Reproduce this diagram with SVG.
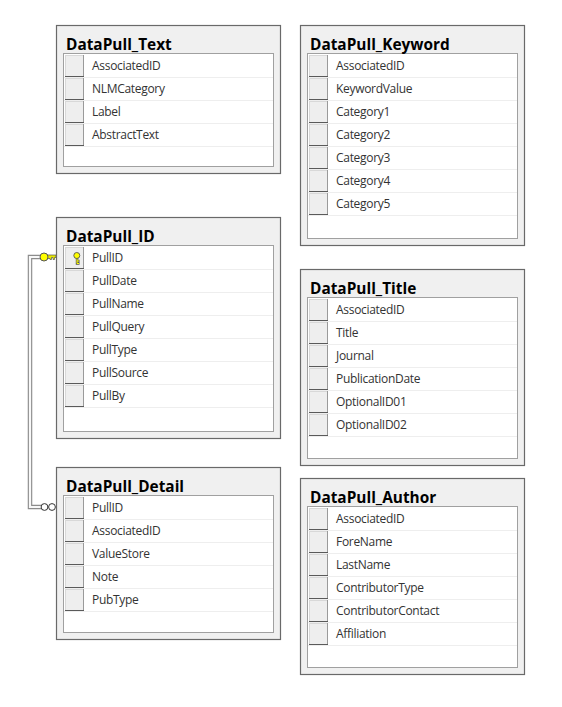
<svg xmlns="http://www.w3.org/2000/svg" xmlns:xlink="http://www.w3.org/1999/xlink" width="562" height="707" viewBox="0 0 562 707">
<style>
.o{fill:#f0f0f0;stroke:#696969;stroke-width:1.2}
.i{fill:#fff;stroke:#a0a0a0;stroke-width:1}
.t{font:bold 15.4px "Open Sans","Noto Sans",sans-serif;fill:#000}
.c{font:12px "Open Sans","Noto Sans",sans-serif;letter-spacing:-.3px;fill:#333}
</style>
<defs>
<g id="r">
<line x1="0" y1="23.5" x2="209" y2="23.5" stroke="#eeeeee"/>
<rect x="1.500" y="1.500" width="18" height="21" fill="#eeeeee" stroke="#d8d8d8"/>
<path d="M19.500 1V22.500" fill="none" stroke="#9a9a9a"/>
<path d="M1 22.500H20" fill="none" stroke="#5a5a5a"/>
</g>
</defs>
<rect width="562" height="707" fill="#fff"/>
<g id="connectors">
<path d="M44 257H30V507H44" fill="none" stroke="#8c8c8c" stroke-width="4.500"/>
<path d="M44 257H30V507H44" fill="none" stroke="#f8f8f8" stroke-width="2.200"/>
<path d="M47 255H56V257.500H54.500V259.500H53V257.500H51.500V259.500H50V258.500H47Z" fill="#e8e800" stroke="#555" stroke-width=".7"/>
<circle cx="44" cy="257" r="4" fill="#ffff00" stroke="#555" stroke-width="1"/>
<circle cx="44.500" cy="507" r="3.400" fill="#fff" stroke="#333" stroke-width="1"/>
<circle cx="52" cy="507" r="3.400" fill="#fff" stroke="#333" stroke-width="1"/>
</g>
<g id="DataPull_Text">
<rect class="o" x="56.500" y="25.500" width="224" height="148"/>
<rect class="i" x="63.500" y="53.500" width="210" height="113"/>
<text class="t" x="66" y="50">DataPull_Text</text>
<use xlink:href="#r" x="64" y="54"/><text class="c" x="92" y="70">AssociatedID</text>
<use xlink:href="#r" x="64" y="77"/><text class="c" x="92" y="93">NLMCategory</text>
<use xlink:href="#r" x="64" y="100"/><text class="c" x="92" y="116">Label</text>
<use xlink:href="#r" x="64" y="123"/><text class="c" x="92" y="139">AbstractText</text>
</g>
<g id="DataPull_Keyword">
<rect class="o" x="300.500" y="25.500" width="224" height="220"/>
<rect class="i" x="307.500" y="53.500" width="210" height="185"/>
<text class="t" x="310" y="50">DataPull_Keyword</text>
<use xlink:href="#r" x="308" y="54"/><text class="c" x="336" y="70">AssociatedID</text>
<use xlink:href="#r" x="308" y="77"/><text class="c" x="336" y="93">KeywordValue</text>
<use xlink:href="#r" x="308" y="100"/><text class="c" x="336" y="116">Category1</text>
<use xlink:href="#r" x="308" y="123"/><text class="c" x="336" y="139">Category2</text>
<use xlink:href="#r" x="308" y="146"/><text class="c" x="336" y="162">Category3</text>
<use xlink:href="#r" x="308" y="169"/><text class="c" x="336" y="185">Category4</text>
<use xlink:href="#r" x="308" y="192"/><text class="c" x="336" y="208">Category5</text>
</g>
<g id="DataPull_ID">
<rect class="o" x="56.500" y="217.500" width="224" height="221"/>
<rect class="i" x="63.500" y="245.500" width="210" height="186"/>
<text class="t" x="66" y="242">DataPull_ID</text>
<use xlink:href="#r" x="64" y="246"/><text class="c" x="92" y="262">PullID</text>
<path d="M77 258V263.500H79.500M77 261H79.500" fill="none" stroke="#555" stroke-width="2.400"/>
<path d="M77 258V263.500H79M77 261H79" fill="none" stroke="#ffff00" stroke-width="1"/>
<circle cx="76.800" cy="255.500" r="3" fill="#ffff00" stroke="#555" stroke-width=".9"/>
<use xlink:href="#r" x="64" y="269"/><text class="c" x="92" y="285">PullDate</text>
<use xlink:href="#r" x="64" y="292"/><text class="c" x="92" y="308">PullName</text>
<use xlink:href="#r" x="64" y="315"/><text class="c" x="92" y="331">PullQuery</text>
<use xlink:href="#r" x="64" y="338"/><text class="c" x="92" y="354">PullType</text>
<use xlink:href="#r" x="64" y="361"/><text class="c" x="92" y="377">PullSource</text>
<use xlink:href="#r" x="64" y="384"/><text class="c" x="92" y="400">PullBy</text>
</g>
<g id="DataPull_Title">
<rect class="o" x="300.500" y="269.500" width="224" height="196"/>
<rect class="i" x="307.500" y="297.500" width="210" height="161"/>
<text class="t" x="310" y="294">DataPull_Title</text>
<use xlink:href="#r" x="308" y="298"/><text class="c" x="336" y="314">AssociatedID</text>
<use xlink:href="#r" x="308" y="321"/><text class="c" x="336" y="337">Title</text>
<use xlink:href="#r" x="308" y="344"/><text class="c" x="336" y="360">Journal</text>
<use xlink:href="#r" x="308" y="367"/><text class="c" x="336" y="383">PublicationDate</text>
<use xlink:href="#r" x="308" y="390"/><text class="c" x="336" y="406">OptionalID01</text>
<use xlink:href="#r" x="308" y="413"/><text class="c" x="336" y="429">OptionalID02</text>
</g>
<g id="DataPull_Detail">
<rect class="o" x="56.500" y="467.500" width="224" height="172"/>
<rect class="i" x="63.500" y="495.500" width="210" height="137"/>
<text class="t" x="66" y="492">DataPull_Detail</text>
<use xlink:href="#r" x="64" y="496"/><text class="c" x="92" y="512">PullID</text>
<use xlink:href="#r" x="64" y="519"/><text class="c" x="92" y="535">AssociatedID</text>
<use xlink:href="#r" x="64" y="542"/><text class="c" x="92" y="558">ValueStore</text>
<use xlink:href="#r" x="64" y="565"/><text class="c" x="92" y="581">Note</text>
<use xlink:href="#r" x="64" y="588"/><text class="c" x="92" y="604">PubType</text>
</g>
<g id="DataPull_Author">
<rect class="o" x="300.500" y="478.500" width="224" height="196"/>
<rect class="i" x="307.500" y="506.500" width="210" height="161"/>
<text class="t" x="310" y="503">DataPull_Author</text>
<use xlink:href="#r" x="308" y="507"/><text class="c" x="336" y="523">AssociatedID</text>
<use xlink:href="#r" x="308" y="530"/><text class="c" x="336" y="546">ForeName</text>
<use xlink:href="#r" x="308" y="553"/><text class="c" x="336" y="569">LastName</text>
<use xlink:href="#r" x="308" y="576"/><text class="c" x="336" y="592">ContributorType</text>
<use xlink:href="#r" x="308" y="599"/><text class="c" x="336" y="615">ContributorContact</text>
<use xlink:href="#r" x="308" y="622"/><text class="c" x="336" y="638">Affiliation</text>
</g>
</svg>
